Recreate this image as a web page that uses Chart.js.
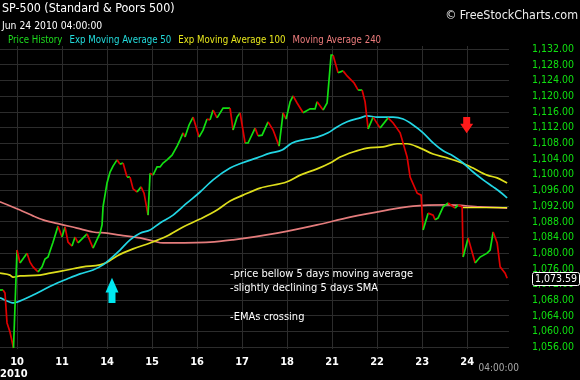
<!DOCTYPE html>
<html>
<head>
<meta charset="utf-8">
<script src="https://cdn.jsdelivr.net/npm/chart.js@4.4.1/dist/chart.umd.min.js"></script>
<style>
html,body{margin:0;padding:0;background:#000;}
#wrap{width:580px;height:380px;position:relative;}
canvas{display:block;background:#000;}
</style>
</head>
<body>
<div id="wrap"><canvas id="c" width="580" height="380"></canvas></div>
<script>
// ---------- data (time in trading days, 0 = start of Jun 10) ----------
const dayLabels = ['10','11','14','15','16','17','18','21','22','23','24'];
const yTickValues = [1056,1060,1064,1068,1072,1076,1080,1084,1088,1092,1096,1100,1104,1108,1112,1116,1120,1124,1128,1132];

const priceTime = [-0.378,-0.311,-0.267,-0.222,-0.156,-0.078,0,0.067,0.222,0.289,
  0.356,0.467,0.556,0.622,0.689,0.8,0.911,1.0,1.067,1.133,
  1.222,1.289,1.356,1.556,1.689,1.844,1.889,1.911,2.0,2.067,
  2.133,2.222,2.289,2.356,2.444,2.511,2.578,2.667,2.756,2.822,
  2.911,2.956,3.022,3.111,3.178,3.244,3.333,3.444,3.556,3.622,
  3.689,3.733,3.822,3.911,3.978,4.044,4.133,4.222,4.289,4.356,
  4.444,4.578,4.667,4.733,4.8,4.889,4.956,5.067,5.133,5.289,
  5.356,5.444,5.578,5.689,5.822,5.911,5.978,6.067,6.133,6.222,
  6.356,6.511,6.622,6.667,6.8,6.889,6.978,7.022,7.133,7.244,
  7.333,7.489,7.578,7.667,7.733,7.8,7.911,8.067,8.244,8.356,
  8.511,8.667,8.733,8.889,8.978,9.022,9.133,9.244,9.289,9.356,
  9.467,9.578,9.667,9.733,9.8,9.889,9.911,10.022,10.178,10.289,
  10.444,10.511,10.578,10.667,10.733,10.844,10.889];
const priceValue = [1070.6,1070.6,1069.8,1062.2,1059.9,1055.8,1080.8,1077.5,1080.0,1077.7,
  1076.5,1075.2,1076.5,1078.5,1079.0,1082.8,1086.9,1084.1,1086.7,1082.8,
  1081.8,1084.1,1082.6,1084.9,1081.3,1085.1,1087.2,1091.8,1097.9,1100.7,
  1102.2,1103.8,1102.7,1103.0,1099.4,1099.4,1096.4,1095.6,1096.9,1095.3,
  1089.7,1100.4,1099.9,1102.0,1102.0,1103.0,1103.8,1105.0,1107.3,1108.9,
  1110.7,1109.6,1112.7,1114.7,1112.2,1109.6,1111.4,1114.2,1114.0,1116.5,
  1114.5,1117.0,1117.0,1117.0,1111.4,1114.7,1115.8,1108.1,1108.1,1111.9,
  1109.9,1110.1,1113.5,1111.4,1107.3,1115.8,1114.2,1118.6,1120.1,1118.3,
  1115.8,1116.8,1116.8,1118.6,1116.5,1118.3,1130.5,1130.5,1126.0,1126.5,
  1125.2,1123.4,1121.6,1121.6,1118.6,1111.7,1114.7,1111.9,1114.5,1113.2,
  1110.7,1104.5,1099.4,1095.3,1094.8,1085.9,1090.2,1089.7,1088.5,1089.0,
  1091.8,1092.8,1092.0,1091.5,1092.3,1091.8,1079.0,1083.9,1077.5,1079.0,
  1080.0,1080.8,1085.4,1082.6,1076.5,1074.9,1073.59];

const ema50Time = [-0.378,-0.067,0,0.356,0.578,0.8,1.111,1.4,1.689,1.911,2.067,2.289,2.511,2.733,2.956,3.178,3.467,3.778,4.067,4.356,4.733,5.0,5.333,5.622,5.889,6.111,6.356,6.667,6.911,7.111,7.333,7.622,7.778,8.0,8.356,8.578,8.8,9.022,9.244,9.467,9.689,9.911,10.133,10.356,10.578,10.733,10.889];
const ema50Value = [1068.6,1067.3,1067.5,1069.3,1070.6,1071.9,1073.4,1074.7,1075.7,1077.0,1078.5,1080.8,1083.4,1085.1,1085.9,1087.7,1089.7,1092.8,1095.6,1098.7,1101.7,1103.0,1104.3,1105.5,1106.3,1108.1,1108.9,1109.6,1110.7,1112.2,1113.5,1114.5,1115.0,1114.7,1114.7,1114.2,1112.7,1110.7,1108.1,1106.1,1104.8,1103.0,1100.7,1098.7,1096.9,1095.6,1094.1];

const ema100Time = [-0.378,-0.156,-0.089,0.067,0.511,0.733,1.111,1.467,1.844,2.0,2.222,2.578,2.956,3.333,3.689,4.067,4.444,4.733,5.022,5.4,6.0,6.289,6.667,6.956,7.178,7.467,7.778,8.133,8.444,8.667,8.956,9.244,9.556,9.889,10.133,10.444,10.667,10.889];
const ema100Value = [1074.9,1074.4,1073.9,1074.2,1074.4,1074.9,1075.7,1076.5,1077.0,1077.7,1079.3,1081.1,1082.6,1084.4,1086.7,1088.7,1091.0,1093.3,1094.8,1096.6,1098.2,1099.9,1101.5,1103.0,1104.5,1105.8,1106.8,1107.1,1107.9,1107.9,1106.8,1105.3,1104.3,1103.0,1101.7,1099.9,1099.2,1097.9];

const ma240Time = [-0.378,0.067,0.356,0.578,0.956,1.333,1.689,2.0,2.289,2.733,3.022,3.244,4.289,4.8,5.778,6.667,7.4,8.133,8.8,9.556,10.289,10.889];
const ma240Value = [1093.1,1091.0,1089.5,1088.5,1087.4,1086.4,1085.4,1085.1,1084.6,1083.9,1083.1,1082.6,1082.8,1083.4,1085.1,1087.2,1089.2,1090.8,1092.0,1092.3,1091.8,1091.5];

const supportTime = [9.889,10.889];
const supportValue = [1091.6,1091.6];

const lastPrice = 1073.59;
const titleText = 'SP-500 (Standard & Poors 500)';
const dateText = 'Jun 24 2010 04:00:00';
const sourceText = '\u00A9 FreeStockCharts.com';
const yearText = '2010';
const endTimeText = '04:00:00';
const noteLines = ['-price bellow 5 days moving average','-slightly declining 5 days SMA','','-EMAs crossing'];
const noteAnchor = {x: 4.733, y: 1074.7};
const upArrow = {x: 2.11, tail: 1067.3, tip: 1073.7};
const downArrow = {x: 9.99, tail: 1114.7, tip: 1110.6};

// ---------- styles ----------
const FONT = "'DejaVu Sans Condensed', 'Liberation Sans', sans-serif";
const UP = '#12e012', DOWN = '#e00000';
const CYAN = '#22d6e4', YELLOW = '#dede1c', SALMON = '#e47c7c';
const GRID = '#2c2c2c';

const pairs = (t, v) => t.map((x, i) => ({x, y: v[i]}));

Chart.defaults.font.family = FONT;

const decorPlugin = {
  id: 'decor',
  afterDraw(chart) {
    const ctx = chart.ctx, xs = chart.scales.x, ys = chart.scales.y;
    ctx.save();
    ctx.textBaseline = 'middle';
    // title & date
    ctx.fillStyle = '#ffffff';
    ctx.textAlign = 'left';
    ctx.font = '12.4px ' + FONT;
    ctx.fillText(titleText, 2, 9);
    ctx.font = '10.3px ' + FONT;
    ctx.fillText(dateText, 2, 26);
    ctx.textAlign = 'right';
    ctx.font = '12.4px ' + FONT;
    ctx.fillStyle = '#eeeeee';
    ctx.fillText(sourceText, 578, 16);
    // legend
    ctx.textAlign = 'left';
    ctx.font = '9.6px ' + FONT;
    let lx = 8;
    chart.data.datasets.forEach(ds => {
      if (!ds.legendColor) return;
      ctx.fillStyle = ds.legendColor;
      ctx.fillText(ds.label, lx, 40);
      lx += ctx.measureText(ds.label).width + 7;
    });
    // year and end-time labels on the time axis
    ctx.fillStyle = '#ffffff';
    ctx.font = 'bold 11px ' + FONT;
    ctx.fillText(yearText, 0, 374);
    ctx.textAlign = 'right';
    ctx.fillStyle = '#a8a8a8';
    ctx.font = '10px ' + FONT;
    ctx.fillText(endTimeText, 519, 368);
    // notes
    ctx.textAlign = 'left';
    ctx.fillStyle = '#ffffff';
    ctx.font = '11px ' + FONT;
    const nx = xs.getPixelForValue(noteAnchor.x), ny = ys.getPixelForValue(noteAnchor.y);
    noteLines.forEach((l, i) => ctx.fillText(l, nx, ny + i * 14.4));
    // arrows
    const arrow = (a, color) => {
      const x = xs.getPixelForValue(a.x);
      const yT = ys.getPixelForValue(a.tail), yP = ys.getPixelForValue(a.tip);
      const dir = yP < yT ? -1 : 1;
      const len = Math.abs(yP - yT);
      const headLen = len * 0.58;
      const yH = yP - dir * headLen;
      ctx.fillStyle = color;
      ctx.beginPath();
      ctx.moveTo(x, yP);
      ctx.lineTo(x + 6.5, yH);
      ctx.lineTo(x + 3.5, yH);
      ctx.lineTo(x + 3.5, yT);
      ctx.lineTo(x - 3.5, yT);
      ctx.lineTo(x - 3.5, yH);
      ctx.lineTo(x - 6.5, yH);
      ctx.closePath();
      ctx.fill();
    };
    arrow(upArrow, '#00e8f0');
    arrow(downArrow, '#ff1a1a');
    // last price box
    const py = ys.getPixelForValue(lastPrice);
    const txt = lastPrice.toLocaleString('en-US', {minimumFractionDigits: 2, maximumFractionDigits: 2});
    ctx.font = '10.5px ' + FONT;
    const bx = 532, bw = 47, bh = 13;
    ctx.fillStyle = '#000000';
    ctx.strokeStyle = '#ffffff';
    ctx.lineWidth = 1;
    ctx.beginPath();
    if (ctx.roundRect) ctx.roundRect(bx + 0.5, Math.round(py - bh / 2) + 0.5, bw, bh, 2);
    else ctx.rect(bx + 0.5, Math.round(py - bh / 2) + 0.5, bw, bh);
    ctx.fill();
    ctx.stroke();
    ctx.fillStyle = '#ffffff';
    ctx.textAlign = 'center';
    ctx.fillText(txt, bx + bw / 2 + 0.5, py + 0.5);
    ctx.restore();
  }
};

new Chart(document.getElementById('c'), {
  type: 'line',
  data: {
    datasets: [
      {
        label: 'Price History', legendColor: '#1edc1e',
        data: pairs(priceTime, priceValue),
        borderWidth: 1.7, pointRadius: 0, tension: 0,
        borderColor: UP,
        segment: { borderColor: c => c.p1.parsed.y >= c.p0.parsed.y ? UP : DOWN }
      },
      {
        label: 'support',
        data: pairs(supportTime, supportValue),
        borderColor: '#f0f020', borderWidth: 1.4, pointRadius: 0
      },
      {
        label: 'Exp Moving Average 50', legendColor: '#22dcdc',
        data: pairs(ema50Time, ema50Value),
        borderColor: CYAN, borderWidth: 1.7, pointRadius: 0, cubicInterpolationMode: 'monotone'
      },
      {
        label: 'Exp Moving Average 100', legendColor: '#e6e61c',
        data: pairs(ema100Time, ema100Value),
        borderColor: YELLOW, borderWidth: 1.7, pointRadius: 0, cubicInterpolationMode: 'monotone'
      },
      {
        label: 'Moving Average 240', legendColor: '#ec7c7c',
        data: pairs(ma240Time, ma240Value),
        borderColor: SALMON, borderWidth: 1.7, pointRadius: 0, cubicInterpolationMode: 'monotone'
      }
    ]
  },
  options: {
    responsive: false,
    animation: false,
    events: [],
    layout: { padding: { top: 46, left: 0, right: 0, bottom: 0 } },
    plugins: { legend: { display: false }, tooltip: { enabled: false }, title: { display: false } },
    scales: {
      x: {
        type: 'linear',
        min: -0.378, max: 10.93,
        afterBuildTicks: s => { s.ticks = dayLabels.map((_, i) => ({value: i})); },
        afterFit: s => { s.height = 31; },
        ticks: {
          callback: v => dayLabels[v],
          color: '#ffffff', padding: 7, maxRotation: 0, autoSkip: false,
          font: { size: 11, weight: 'bold' }
        },
        grid: { color: GRID, drawTicks: false },
        border: { display: false }
      },
      y: {
        position: 'right',
        min: 1055.55, max: 1132.84,
        afterBuildTicks: s => { s.ticks = yTickValues.map(v => ({value: v})); },
        afterFit: s => { s.width = 71; },
        ticks: {
          callback: v => v.toLocaleString('en-US', {minimumFractionDigits: 2, maximumFractionDigits: 2}),
          color: '#10e010', padding: 23, crossAlign: 'near', autoSkip: false,
          font: { size: 10.5 }
        },
        grid: { color: GRID, drawTicks: false },
        border: { display: false }
      }
    }
  },
  plugins: [decorPlugin]
});
</script>
</body>
</html>
